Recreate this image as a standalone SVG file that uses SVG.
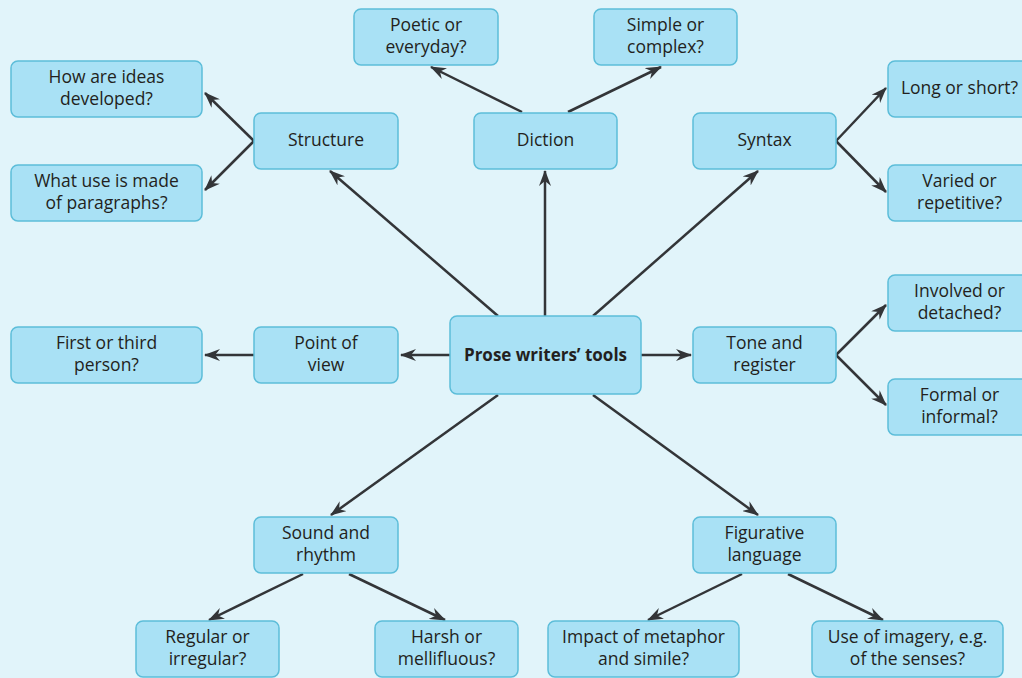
<svg xmlns="http://www.w3.org/2000/svg" width="1022" height="678" viewBox="0 0 1022 678">
<defs>
<style>
.b{fill:#a9e1f5;stroke:#5cbdd9;stroke-width:1.5}
.t{font-family:"Open Sans","Noto Sans",sans-serif;font-size:17.5px;fill:#231f20;text-anchor:middle}
.tb{font-weight:bold;font-size:17px}
.c line{stroke:#333538;stroke-width:2.5;marker-end:url(#ah)}
</style>
<marker id="ah" viewBox="0 0 16 12" refX="15" refY="6" markerWidth="16" markerHeight="12" markerUnits="userSpaceOnUse" orient="auto">
<path d="M16,6 L0,0 L5,6 L0,12 Z" fill="#333538"/>
</marker>
</defs>
<rect width="1022" height="678" fill="#e1f4fa"/>
<g class="c">
<line x1="522" y1="112" x2="431" y2="67"/>
<line x1="568" y1="112" x2="661" y2="67"/>
<line x1="254" y1="141" x2="205" y2="93"/>
<line x1="254" y1="141" x2="205" y2="190"/>
<line x1="836" y1="141" x2="886" y2="88"/>
<line x1="836" y1="141" x2="886" y2="192"/>
<line x1="836" y1="355" x2="886" y2="305"/>
<line x1="836" y1="355" x2="886" y2="405"/>
<line x1="498" y1="316" x2="330" y2="171"/>
<line x1="545" y1="316" x2="545" y2="171"/>
<line x1="593" y1="316" x2="758" y2="171"/>
<line x1="450" y1="355" x2="401" y2="355"/>
<line x1="254" y1="355" x2="205" y2="355"/>
<line x1="641" y1="355" x2="691" y2="355"/>
<line x1="498" y1="395" x2="331" y2="515"/>
<line x1="593" y1="395" x2="758" y2="515"/>
<line x1="303" y1="574" x2="209" y2="620"/>
<line x1="349" y1="574" x2="445" y2="620"/>
<line x1="742" y1="574" x2="648" y2="620"/>
<line x1="788" y1="574" x2="883" y2="620"/>
</g>
<g id="center"><rect class="b" x="450" y="316" width="191" height="78" rx="7"/><text class="t tb" x="545.5" y="361">Prose writers’ tools</text></g>
<g id="poetic"><rect class="b" x="354" y="9" width="144" height="56" rx="7"/><text class="t" x="426" y="31">Poetic or</text><text class="t" x="426" y="53">everyday?</text></g>
<g id="simple"><rect class="b" x="594" y="9" width="143" height="56" rx="7"/><text class="t" x="665.5" y="31">Simple or</text><text class="t" x="665.5" y="53">complex?</text></g>
<g id="ideas"><rect class="b" x="11" y="61" width="191" height="56" rx="7"/><text class="t" x="106.5" y="83">How are ideas</text><text class="t" x="106.5" y="105">developed?</text></g>
<g id="paragraphs"><rect class="b" x="11" y="165" width="191" height="56" rx="7"/><text class="t" x="106.5" y="187">What use is made</text><text class="t" x="106.5" y="209">of paragraphs?</text></g>
<g id="structure"><rect class="b" x="254" y="113" width="144" height="56" rx="7"/><text class="t" x="326" y="146">Structure</text></g>
<g id="diction"><rect class="b" x="474" y="113" width="143" height="56" rx="7"/><text class="t" x="545.5" y="146">Diction</text></g>
<g id="syntax"><rect class="b" x="693" y="113" width="143" height="56" rx="7"/><text class="t" x="764.5" y="146">Syntax</text></g>
<g id="long"><rect class="b" x="888" y="61" width="143" height="56" rx="7"/><text class="t" x="959.5" y="94">Long or short?</text></g>
<g id="varied"><rect class="b" x="888" y="165" width="143" height="56" rx="7"/><text class="t" x="959.5" y="187">Varied or</text><text class="t" x="959.5" y="209">repetitive?</text></g>
<g id="involved"><rect class="b" x="888" y="275" width="143" height="56" rx="7"/><text class="t" x="959.5" y="297">Involved or</text><text class="t" x="959.5" y="319">detached?</text></g>
<g id="formal"><rect class="b" x="888" y="379" width="143" height="56" rx="7"/><text class="t" x="959.5" y="401">Formal or</text><text class="t" x="959.5" y="423">informal?</text></g>
<g id="person"><rect class="b" x="11" y="327" width="191" height="56" rx="7"/><text class="t" x="106.5" y="349">First or third</text><text class="t" x="106.5" y="371">person?</text></g>
<g id="pov"><rect class="b" x="254" y="327" width="144" height="56" rx="7"/><text class="t" x="326" y="349">Point of</text><text class="t" x="326" y="371">view</text></g>
<g id="tone"><rect class="b" x="693" y="327" width="143" height="56" rx="7"/><text class="t" x="764.5" y="349">Tone and</text><text class="t" x="764.5" y="371">register</text></g>
<g id="sound"><rect class="b" x="254" y="517" width="144" height="56" rx="7"/><text class="t" x="326" y="539">Sound and</text><text class="t" x="326" y="561">rhythm</text></g>
<g id="figurative"><rect class="b" x="693" y="517" width="143" height="56" rx="7"/><text class="t" x="764.5" y="539">Figurative</text><text class="t" x="764.5" y="561">language</text></g>
<g id="regular"><rect class="b" x="136" y="621" width="143" height="56" rx="7"/><text class="t" x="207.5" y="643">Regular or</text><text class="t" x="207.5" y="665">irregular?</text></g>
<g id="harsh"><rect class="b" x="375" y="621" width="143" height="56" rx="7"/><text class="t" x="446.5" y="643">Harsh or</text><text class="t" x="446.5" y="665">mellifluous?</text></g>
<g id="metaphor"><rect class="b" x="548" y="621" width="191" height="56" rx="7"/><text class="t" x="643.5" y="643">Impact of metaphor</text><text class="t" x="643.5" y="665">and simile?</text></g>
<g id="imagery"><rect class="b" x="812" y="621" width="191" height="56" rx="7"/><text class="t" x="907.5" y="643">Use of imagery, e.g.</text><text class="t" x="907.5" y="665">of the senses?</text></g>
</svg>
